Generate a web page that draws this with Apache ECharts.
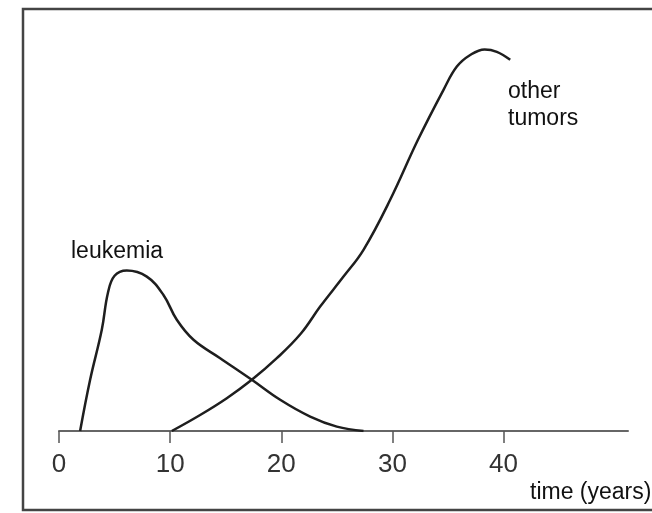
<!DOCTYPE html>
<html>
<head>
<meta charset="utf-8">
<script src="https://cdn.jsdelivr.net/npm/echarts@6/dist/echarts.min.js"></script>
<style>
  html, body { margin: 0; padding: 0; background: #fff; }
  #chart { width: 652px; height: 513px; }
</style>
</head>
<body>
<div id="chart"></div>
<script>
// years since exposure, relative incidence (arbitrary units, 0-100)
const xTicks = [0, 10, 20, 30, 40]
const leukemiaYears = [1.9, 2.8, 3.85, 4.4, 5.0, 6.1, 7.9, 9.4, 10.6, 12.1, 14.5, 17.35, 19.9, 22.6, 25.0, 27.4]
const leukemiaValues = [0, 12.8, 25.3, 34.5, 38.8, 40.1, 38.6, 34, 27.8, 22.8, 18.2, 12.8, 7.8, 3.6, 1.1, 0]
const tumorYears = [10.15, 12.7, 15.1, 17.35, 19.6, 21.75, 23.5, 25.6, 27.4, 29.8, 32.3, 34.6, 35.8, 37.0, 38.3, 39.4, 40.6]
const tumorValues = [0, 4, 8.2, 12.8, 18.2, 24.3, 31.1, 38.6, 45.3, 57.8, 72.8, 85.3, 91.1, 94, 95.4, 94.8, 92.8]

const font = '"Liberation Sans", Arial, Helvetica, sans-serif'
const ink = '#1e1e1e'

const pairs = (xs, ys) => xs.map((x, i) => [x, ys[i]])

const chart = echarts.init(document.getElementById('chart'))

chart.setOption({
  backgroundColor: '#fff',
  animation: false,
  grid: { left: 59, right: 24, top: 31, bottom: 82 },
  xAxis: {
    type: 'value',
    min: 0,
    max: 51.2,
    interval: 10,
    splitLine: { show: false },
    axisLine: { lineStyle: { color: '#666', width: 2 } },
    axisTick: { customValues: xTicks, length: 12, lineStyle: { color: '#555', width: 1.5 } },
    axisLabel: {
      customValues: xTicks,
      margin: 21,
      color: '#333',
      fontSize: 26,
      fontFamily: font
    }
  },
  yAxis: { type: 'value', min: 0, max: 100, show: false },
  series: [
    {
      name: 'leukemia',
      type: 'line',
      smooth: 0.4,
      symbol: 'none',
      lineStyle: { color: ink, width: 2.5 },
      data: pairs(leukemiaYears, leukemiaValues)
    },
    {
      name: 'other tumors',
      type: 'line',
      smooth: 0.4,
      symbol: 'none',
      lineStyle: { color: ink, width: 2.5 },
      data: pairs(tumorYears, tumorValues)
    }
  ],
  graphic: [
    {
      type: 'rect',
      silent: true,
      shape: { x: 23, y: 9, width: 700, height: 501 },
      style: { fill: 'none', stroke: '#444', lineWidth: 2.5 }
    },
    {
      type: 'text', left: 71, top: 240,
      style: { text: 'leukemia', font: '23px ' + font, fill: '#111' }
    },
    {
      type: 'text', left: 508, top: 78,
      style: { text: 'other\ntumors', font: '23px ' + font, fill: '#111', lineHeight: 27 }
    },
    {
      type: 'text', left: 530, top: 481,
      style: { text: 'time (years)', font: '23px ' + font, fill: '#111' }
    }
  ]
})
</script>
</body>
</html>
